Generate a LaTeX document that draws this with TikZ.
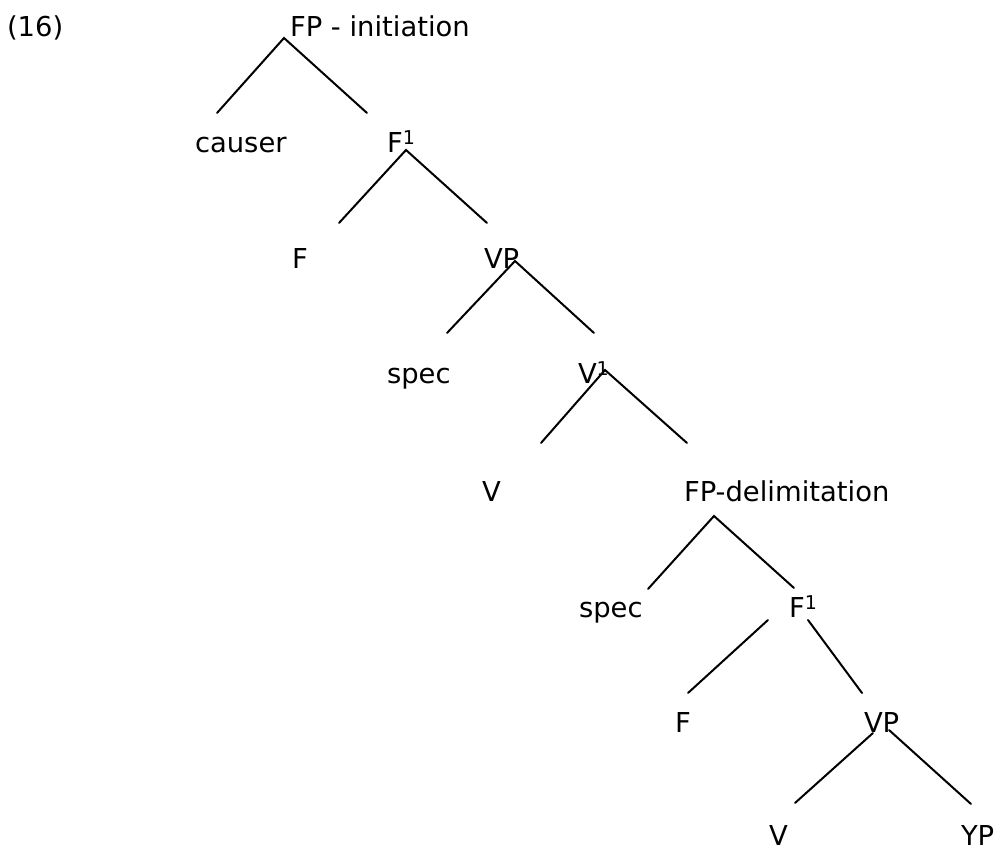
\documentclass[tikz,border=0pt]{standalone}
\usepackage{fontspec}
\setmainfont{DejaVu Sans}
\begin{document}
\begin{tikzpicture}[x=1pt,y=-1pt,
  lbl/.style={anchor=base west,inner sep=0pt,outer sep=0pt,
    font=\fontsize{27.4}{30}\selectfont},
  branch/.style={line width=2pt,line cap=round}]
\newcommand{\barone}{\raisebox{8pt}{\fontsize{19}{19}\selectfont 1}}
\useasboundingbox (0,0) rectangle (997,850);

% labels of the tree
\node[lbl] (ex)     at (7,37)    {(16)};
\node[lbl] (fpi)    at (290,37)  {FP - initiation};
\node[lbl] (causer) at (195,153) {causer};
\node[lbl] (fbara)  at (387,153) {F\barone};
\node[lbl] (fa)     at (292,269) {F};
\node[lbl] (vpa)    at (484,269) {VP};
\node[lbl] (speca)  at (387,384) {spec};
\node[lbl] (vbar)   at (578,384) {V\barone};
\node[lbl] (va)     at (482,501) {V};
\node[lbl] (fpd)    at (684,501) {FP-delimitation};
\node[lbl] (specb)  at (579,617) {spec};
\node[lbl] (fbarb)  at (789,617) {F\barone};
\node[lbl] (fb)     at (675,732) {F};
\node[lbl] (vpb)    at (864,732) {VP};
\node[lbl] (vb)     at (769,845) {V};
\node[lbl] (yp)     at (961,845) {YP};

% branch end points
\coordinate (fpi-top)   at (284,38);
\coordinate (causer-up) at (217,113);
\coordinate (fbara-up)  at (367,113);
\coordinate (fbara-top) at (406,150);
\coordinate (fa-up)     at (339,223);
\coordinate (vpa-up)    at (487,223);
\coordinate (vpa-top)   at (515,261);
\coordinate (speca-up)  at (447,333);
\coordinate (vbar-up)   at (594,333);
\coordinate (vbar-top)  at (605,370);
\coordinate (va-up)     at (541,443);
\coordinate (fpd-up)    at (687,443);
\coordinate (fpd-top)   at (714,516);
\coordinate (specb-up)  at (648,589);
\coordinate (fbarb-up)  at (794,588);
\coordinate (fbarb-tl)  at (768,620);
\coordinate (fbarb-tr)  at (808,620);
\coordinate (fb-up)     at (688,693);
\coordinate (vpb-up)    at (862,693);
\coordinate (vpb-tl)    at (873,733);
\coordinate (vpb-tr)    at (889,730);
\coordinate (vb-up)     at (795,803);
\coordinate (yp-up)     at (971,804);

% branches
\draw[branch] (causer-up) -- (fpi-top) -- (fbara-up);
\draw[branch] (fa-up) -- (fbara-top) -- (vpa-up);
\draw[branch] (speca-up) -- (vpa-top) -- (vbar-up);
\draw[branch] (va-up) -- (vbar-top) -- (fpd-up);
\draw[branch] (specb-up) -- (fpd-top) -- (fbarb-up);
\draw[branch] (fbarb-tl) -- (fb-up);
\draw[branch] (fbarb-tr) -- (vpb-up);
\draw[branch] (vpb-tl) -- (vb-up);
\draw[branch] (vpb-tr) -- (yp-up);
\end{tikzpicture}
\end{document}
